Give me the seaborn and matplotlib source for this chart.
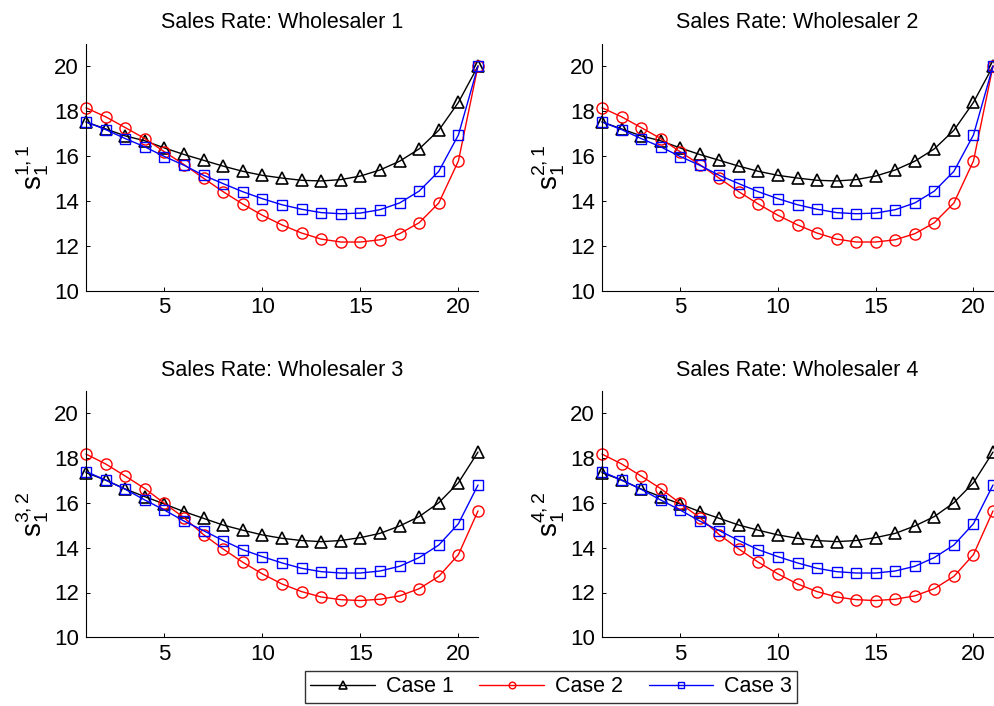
import numpy as np
import pandas as pd
import matplotlib
matplotlib.use("Agg")
import matplotlib.pyplot as plt
import seaborn as sns

# ---- data ----
steps = list(range(1, 22))

# Wholesalers 1 and 2 (identical panels)
w12_case1 = [17.51, 17.20, 16.89, 16.67, 16.35, 16.06, 15.80, 15.54, 15.31, 15.13, 15.01,
             14.91, 14.88, 14.94, 15.10, 15.37, 15.76, 16.31, 17.14, 18.38, 20.00]
w12_case2 = [18.14, 17.74, 17.26, 16.77, 16.18, 15.61, 15.00, 14.40, 13.85, 13.35, 12.92,
             12.56, 12.29, 12.16, 12.16, 12.26, 12.53, 13.02, 13.90, 15.77, 20.00]
w12_case3 = [17.51, 17.17, 16.77, 16.40, 15.97, 15.58, 15.13, 14.76, 14.40, 14.09, 13.82,
             13.62, 13.47, 13.42, 13.45, 13.60, 13.90, 14.43, 15.31, 16.93, 20.00]

# Wholesalers 3 and 4 (identical panels)
w34_case1 = [17.35, 17.02, 16.62, 16.28, 15.95, 15.61, 15.31, 15.01, 14.78, 14.57, 14.42,
             14.32, 14.27, 14.32, 14.45, 14.64, 14.97, 15.39, 16.01, 16.90, 18.27]
w34_case2 = [18.18, 17.74, 17.20, 16.64, 15.98, 15.34, 14.58, 13.94, 13.35, 12.83, 12.38,
             12.04, 11.80, 11.68, 11.64, 11.70, 11.85, 12.17, 12.72, 13.69, 15.64]
w34_case3 = [17.40, 17.02, 16.61, 16.13, 15.68, 15.19, 14.76, 14.32, 13.91, 13.60, 13.32,
             13.08, 12.93, 12.87, 12.87, 12.96, 13.17, 13.56, 14.12, 15.07, 16.80]

case_names = ["Case 1", "Case 2", "Case 3"]
titles = ["Sales Rate: Wholesaler 1", "Sales Rate: Wholesaler 2",
          "Sales Rate: Wholesaler 3", "Sales Rate: Wholesaler 4"]
ylabels = [r"$\mathregular{s_1^{1,1}}$", r"$\mathregular{s_1^{2,1}}$",
           r"$\mathregular{s_1^{3,2}}$", r"$\mathregular{s_1^{4,2}}$"]
panel_series = [
    [w12_case1, w12_case2, w12_case3],
    [w12_case1, w12_case2, w12_case3],
    [w34_case1, w34_case2, w34_case3],
    [w34_case1, w34_case2, w34_case3],
]
xticks = [5, 10, 15, 20]
yticks = [10, 12, 14, 16, 18, 20]

# ---- style ----
sns.set_style("ticks")
plt.rcParams["font.family"] = ["Liberation Sans", "DejaVu Sans"]
plt.rcParams["mathtext.fontset"] = "custom"
plt.rcParams["mathtext.rm"] = "Liberation Sans"
plt.rcParams["mathtext.it"] = "Liberation Sans"
for k in ["text.color", "axes.labelcolor", "xtick.color", "ytick.color",
          "xtick.labelcolor", "ytick.labelcolor"]:
    plt.rcParams[k] = "black"

colors = ["#000000", "#ff0000", "#0000ff"]
markers = ["^", "o", "s"]
msizes = [9, 8, 6.5]
medge = [1.2, 1.0, 1.0]

fig = plt.figure(figsize=(9.95, 7.06), dpi=100)
W, H = 995, 706
boxes = [
    (86, 43.6, 478, 290.5),
    (602, 43.6, 993, 290.5),
    (86, 390.9, 478, 637.3),
    (602, 390.9, 993, 637.3),
]

handles = None
for i, (x0, y0, x1, y1) in enumerate(boxes):
    ax = fig.add_axes([x0 / W, 1 - y1 / H, (x1 - x0) / W, (y1 - y0) / H])
    for j in range(3):
        df = pd.DataFrame({"step": steps, "value": panel_series[i][j]})
        sns.lineplot(data=df, x="step", y="value", ax=ax, color=colors[j],
                     marker=markers[j], markersize=msizes[j],
                     markerfacecolor="none", markeredgecolor=colors[j],
                     markeredgewidth=medge[j], linewidth=1.0,
                     label=case_names[j], clip_on=False, legend=False)
    ax.set_xlim(1, 21)
    ax.set_ylim(10, 21)
    ax.set_xticks(xticks)
    ax.set_yticks(yticks)
    ax.tick_params(direction="in", length=3, width=0.7, labelsize=16, pad=5,
                   colors="black", labelcolor="black")
    for s in ["top", "right"]:
        ax.spines[s].set_visible(False)
    for s in ["left", "bottom"]:
        ax.spines[s].set_linewidth(0.8)
        ax.spines[s].set_color("black")
    ax.set_title(titles[i], fontsize=15.5, pad=11, color="black")
    ax.set_xlabel("")
    ax.set_ylabel(ylabels[i], fontsize=20, labelpad=2, color="black")
    if handles is None:
        handles, labels = ax.get_legend_handles_labels()

leg = fig.legend(handles, case_names, loc="center", ncol=3,
                 bbox_to_anchor=(551 / W, 1 - 687 / H), fontsize=15.5,
                 frameon=True, fancybox=False, edgecolor="black",
                 handlelength=3.0, columnspacing=1.2, handletextpad=0.5,
                 borderpad=0.25, markerscale=0.6)
leg.get_frame().set_linewidth(1.0)

fig.savefig("out.png", dpi=100)
